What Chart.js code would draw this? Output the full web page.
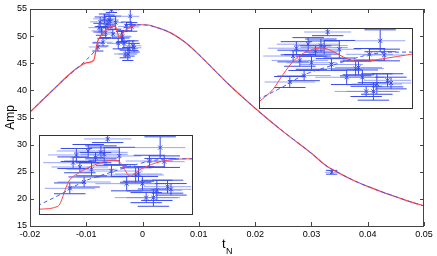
<!DOCTYPE html>
<html>
<head>
<meta charset="utf-8">
<script src="https://cdn.jsdelivr.net/npm/chart.js@4"></script>
<style>
    html, body { margin: 0; padding: 0; background: #fff; }
    #wrap { position: relative; width: 437px; height: 256px; }
    #mainChart { position: absolute; left: 0; top: 0; }
    .inset { position: absolute; background: #fff; }
</style>
</head>
<body>
<div id="wrap">
    <canvas id="mainChart" width="437" height="256"></canvas>
    <canvas id="inset1" class="inset" width="154" height="81" style="left:259px;top:28px"></canvas>
    <canvas id="inset2" class="inset" width="154" height="80" style="left:39px;top:135px"></canvas>
</div>
<script>
// Axis ticks
const xTicks = [-0.02, -0.01, 0, 0.01, 0.02, 0.03, 0.04, 0.05];
const xTickLabels = ['-0.02', '-0.01', '0', '0.01', '0.02', '0.03', '0.04', '0.05'];
const yTicks = [15, 20, 25, 30, 35, 40, 45, 50, 55];

// Fitted model (red, main plot and lower inset)
const fitT = [-0.02, -0.0175, -0.015, -0.0134, -0.0115, -0.0099, -0.0087, -0.008, -0.0074, -0.0062,
    -0.0052, -0.00485, -0.00464, -0.0041, -0.00347, -0.0025, -0.0017, -0.0002, 0.001, 0.0025,
    0.005, 0.0075, 0.01, 0.0125, 0.015, 0.0175, 0.02, 0.0225, 0.025, 0.0275,
    0.03, 0.0325, 0.035, 0.0375, 0.04, 0.0425, 0.045, 0.0475, 0.05];
const fitAmp = [36.0, 38.5, 41.0, 42.6, 44.2, 45.1, 45.5, 49.0, 50.1, 51.4,
    51.9, 51.8, 51.3, 49.7, 50.6, 51.5, 51.9, 52.1, 52.05, 51.6,
    50.6, 48.9, 46.6, 44.0, 41.4, 39.0, 36.7, 34.5, 32.4, 30.4,
    28.4, 26.2, 24.7, 23.4, 22.3, 21.3, 20.4, 19.5, 18.7];

// Alternative fit (red, upper inset)
const altFitT = [-0.0099, -0.00902, -0.00836, -0.00772, -0.00706, -0.00627, -0.00588, -0.00529,
    -0.00451, -0.00373, -0.00324, -0.00206, -0.00108, -0.0001];
const altFitAmp = [45.3, 46.96, 49.07, 50.85, 51.96, 52.6, 52.68, 52.29,
    51.4, 50.85, 50.85, 51.18, 51.5, 51.85];

// Reference curve (blue dashed)
const refT = [-0.02, -0.0175, -0.015, -0.0125, -0.01, -0.0085, -0.007, -0.0055, -0.003, -0.0015,
    0, 0.0025, 0.005, 0.0075, 0.01, 0.0125, 0.015, 0.0175, 0.02, 0.0225,
    0.025, 0.0275, 0.03, 0.0325, 0.035, 0.0375, 0.04, 0.0425, 0.045, 0.0475, 0.05];
const refAmp = [36.0, 38.5, 41.0, 43.3, 45.6, 47.2, 49.0, 50.1, 51.7, 52.1,
    52.1, 51.6, 50.6, 48.9, 46.6, 44.0, 41.4, 39.0, 36.7, 34.5,
    32.4, 30.4, 28.4, 26.2, 24.7, 23.4, 22.3, 21.3, 20.4, 19.5, 18.7];

// Measurements with errors
const measT = [-0.00553, -0.00219, -0.00752, -0.00677, -0.00596, -0.00575, -0.00479, -0.00773, -0.0063,
    -0.00287, -0.00193, -0.0073, -0.00656, -0.00529, -0.00703, -0.00794, -0.00375, -0.00357,
    -0.00432, -0.00332, -0.0024, -0.00172, -0.0015, -0.00308, -0.00262, 0.0336];
const measAmp = [54.85, 53.65, 52.63, 53.18, 52.99, 52.72, 52.49, 51.56, 52.26,
    51.79, 51.7, 50.96, 50.64, 50.4, 48.88, 48.0, 49.85, 49.99,
    48.65, 48.65, 47.72, 48.23, 47.86, 46.71, 46.71, 24.9];
const measTErr = [0.0015, 0.0016, 0.0018, 0.002, 0.0017, 0.0015, 0.0014, 0.0019, 0.0016,
    0.0015, 0.0013, 0.0018, 0.0016, 0.002, 0.0017, 0.0016, 0.0018, 0.0015,
    0.002, 0.0014, 0.0016, 0.0015, 0.0013, 0.002, 0.0017, 0.0012];
const measAmpErr = [0.5, 1.5, 0.9, 0.9, 0.9, 0.9, 1.2, 0.8, 0.7,
    0.8, 0.8, 0.8, 0.9, 0.8, 0.7, 0.75, 1.0, 1.0,
    1.0, 1.0, 1.4, 0.9, 0.8, 0.7, 1.2, 0.35];

const CAP = 0.001;
const FONT = '"Liberation Sans", Arial, sans-serif';
const RED = 'rgb(255, 70, 70)';
const BLUE = 'rgb(70, 90, 240)';

function pts(xs, ys) {
    return xs.map((v, i) => ({ x: v, y: ys[i] }));
}

function drawMeasurements(chart, m) {
    const { ctx, chartArea: a, scales: { x, y } } = chart;
    ctx.save();
    ctx.beginPath();
    ctx.rect(a.left, a.top, a.right - a.left, a.bottom - a.top);
    ctx.clip();
    ctx.lineWidth = 1;
    for (let i = 0; i < measT.length; i++) {
        const px = x.getPixelForValue(measT[i]);
        const py = y.getPixelForValue(measAmp[i]);
        const xl = x.getPixelForValue(measT[i] - measTErr[i]);
        const xr = x.getPixelForValue(measT[i] + measTErr[i]);
        const yt = y.getPixelForValue(measAmp[i] + measAmpErr[i]);
        const yb = y.getPixelForValue(measAmp[i] - measAmpErr[i]);
        const cl = x.getPixelForValue(measT[i] - CAP);
        const cr = x.getPixelForValue(measT[i] + CAP);

        ctx.strokeStyle = 'rgba(95, 115, 250, 0.65)';
        ctx.beginPath();
        ctx.moveTo(xl, py); ctx.lineTo(xr, py);
        ctx.stroke();

        ctx.strokeStyle = 'rgb(55, 75, 235)';
        ctx.beginPath();
        ctx.moveTo(px, yt); ctx.lineTo(px, yb);
        ctx.moveTo(cl, yt); ctx.lineTo(cr, yt);
        ctx.moveTo(cl, yb); ctx.lineTo(cr, yb);
        ctx.moveTo(px - m, py - m); ctx.lineTo(px + m, py + m);
        ctx.moveTo(px - m, py + m); ctx.lineTo(px + m, py - m);
        ctx.stroke();
    }
    ctx.restore();
}

const errorBars = {
    id: 'errorBars',
    beforeDatasetsDraw(chart, args, opts) {
        drawMeasurements(chart, opts.mark || 1.5);
    }
};

// Main plot frame, inward ticks and axis titles
const frame = {
    id: 'frame',
    afterDraw(chart) {
        const { ctx, chartArea: a, scales: { x, y } } = chart;
        ctx.save();
        ctx.strokeStyle = '#444';
        ctx.lineWidth = 1;
        ctx.strokeRect(Math.round(a.left) + 0.5, Math.round(a.top) + 0.5,
            Math.round(a.right - a.left) - 1, Math.round(a.bottom - a.top));
        ctx.beginPath();
        xTicks.forEach(v => {
            const px = Math.round(x.getPixelForValue(v)) + 0.5;
            ctx.moveTo(px, a.bottom); ctx.lineTo(px, a.bottom - 4);
            ctx.moveTo(px, a.top); ctx.lineTo(px, a.top + 4);
        });
        yTicks.forEach(v => {
            const py = Math.round(y.getPixelForValue(v)) + 0.5;
            ctx.moveTo(a.left, py); ctx.lineTo(a.left + 4, py);
            ctx.moveTo(a.right, py); ctx.lineTo(a.right - 4, py);
        });
        ctx.stroke();

        ctx.fillStyle = '#000';
        ctx.font = '12px ' + FONT;
        ctx.textBaseline = 'alphabetic';
        ctx.translate(14, (a.top + a.bottom) / 2);
        ctx.rotate(-Math.PI / 2);
        ctx.textAlign = 'center';
        ctx.fillText('Amp', 0, 0);
        ctx.setTransform(1, 0, 0, 1, 0, 0);
        ctx.textAlign = 'left';
        ctx.font = '13px ' + FONT;
        ctx.fillText('t', 222, 248);
        ctx.font = '9px ' + FONT;
        ctx.fillText('N', 226, 254);
        ctx.restore();
    }
};

new Chart(document.getElementById('mainChart'), {
    type: 'line',
    data: {
        datasets: [
            {
                data: pts(refT, refAmp),
                borderColor: BLUE,
                borderWidth: 1,
                borderDash: [4, 3],
                pointRadius: 0,
                cubicInterpolationMode: 'monotone'
            },
            {
                data: pts(fitT, fitAmp),
                borderColor: RED,
                borderWidth: 1.2,
                pointRadius: 0,
                cubicInterpolationMode: 'monotone'
            }
        ]
    },
    options: {
        responsive: false,
        animation: false,
        layout: { padding: { left: 0, right: 13, top: 9, bottom: 0 } },
        plugins: { legend: { display: false }, tooltip: { enabled: false }, errorBars: { mark: 1.8 } },
        scales: {
            x: {
                type: 'linear',
                min: -0.02,
                max: 0.05,
                afterBuildTicks: s => { s.ticks = xTicks.map(v => ({ value: v })); },
                afterFit: s => { s.height = 30; },
                grid: { display: false, drawTicks: false },
                border: { display: false },
                ticks: {
                    padding: 3,
                    maxRotation: 0,
                    color: '#000',
                    font: { family: FONT, size: 9 },
                    callback: (v, i) => xTickLabels[i]
                }
            },
            y: {
                type: 'linear',
                min: 15,
                max: 55,
                afterBuildTicks: s => { s.ticks = yTicks.map(v => ({ value: v })); },
                afterFit: s => { s.width = 30; },
                grid: { display: false, drawTicks: false },
                border: { display: false },
                ticks: {
                    padding: 3,
                    color: '#000',
                    font: { family: FONT, size: 9 },
                    callback: v => String(v)
                }
            }
        }
    },
    plugins: [errorBars, frame]
});

const insetBorder = {
    id: 'insetBorder',
    afterDraw(chart) {
        const ctx = chart.ctx;
        ctx.save();
        ctx.strokeStyle = '#333';
        ctx.lineWidth = 1;
        ctx.strokeRect(0.5, 0.5, chart.width - 1, chart.height - 1);
        ctx.restore();
    }
};

function makeInset(id, redT, redAmp) {
    return new Chart(document.getElementById(id), {
        type: 'line',
        data: {
            datasets: [
                {
                    data: pts(refT, refAmp),
                    borderColor: BLUE,
                    borderWidth: 1,
                    borderDash: [4, 3],
                    pointRadius: 0,
                    cubicInterpolationMode: 'monotone'
                },
                {
                    data: pts(redT, redAmp),
                    borderColor: RED,
                    borderWidth: 1,
                    pointRadius: 0,
                    cubicInterpolationMode: 'monotone'
                }
            ]
        },
        options: {
            responsive: false,
            animation: false,
            layout: { padding: 0 },
            plugins: { legend: { display: false }, tooltip: { enabled: false }, errorBars: { mark: 2 } },
            scales: {
                x: { type: 'linear', display: false, min: -0.0099, max: -0.0001 },
                y: { type: 'linear', display: false, min: 44.3, max: 55.4 }
            }
        },
        plugins: [errorBars, insetBorder]
    });
}

makeInset('inset1', altFitT, altFitAmp);
makeInset('inset2', fitT, fitAmp);
</script>
</body>
</html>
